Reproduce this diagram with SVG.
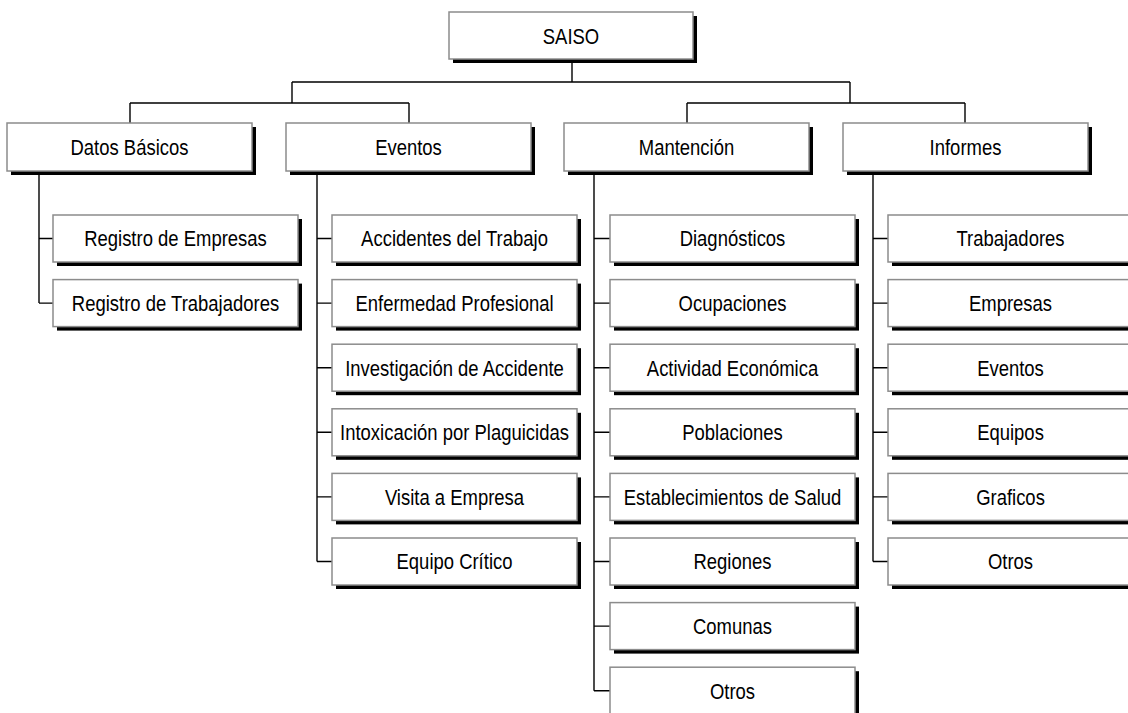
<svg xmlns="http://www.w3.org/2000/svg" width="1128" height="713" viewBox="0 0 1128 713">
<style>
.sh{fill:#000}
.bx{fill:#fff;stroke:#8c8c8c;stroke-width:1.5}
.t{font-family:"Liberation Sans",Arial,sans-serif;font-size:22px;fill:#000;text-anchor:middle}
.c{fill:none;stroke:#000;stroke-width:1.4}
</style>
<rect width="1128" height="713" fill="#fff"/>
<g id="connectors">
<path class="c" d="M572,59V82M292,82H850M292,82V103M850,82V103M130,103H409M687,103H965M130,103V123M409,103V123M687,103V123M965,103V123"/>
<path class="c" d="M39,171V303M39,238.5H53M39,303.1H53"/>
<path class="c" d="M317,171V561.5M317,238.5H332M317,303.1H332M317,367.7H332M317,432.3H332M317,496.9H332M317,561.5H332"/>
<path class="c" d="M594,171V690.7M594,238.5H610M594,303.1H610M594,367.7H610M594,432.3H610M594,496.9H610M594,561.5H610M594,626.1H610M594,690.7H610"/>
<path class="c" d="M873,171V561.5M873,238.5H888M873,303.1H888M873,367.7H888M873,432.3H888M873,496.9H888M873,561.5H888"/>
</g>
<g id="n-saiso"><rect class="sh" x="453" y="16" width="244" height="47"/><rect class="bx" x="449" y="12" width="244" height="47"/><text class="t" transform="translate(571,43.5) scale(0.84,1)">SAISO</text></g>
<g id="n-datos"><rect class="sh" x="11" y="127" width="245" height="48"/><rect class="bx" x="7" y="123" width="245" height="48"/><text class="t" transform="translate(129.5,155) scale(0.84,1)">Datos Básicos</text></g>
<g id="n-eventos"><rect class="sh" x="290" y="127" width="245" height="48"/><rect class="bx" x="286" y="123" width="245" height="48"/><text class="t" transform="translate(408.5,155) scale(0.84,1)">Eventos</text></g>
<g id="n-mantencion"><rect class="sh" x="568" y="127" width="245" height="48"/><rect class="bx" x="564" y="123" width="245" height="48"/><text class="t" transform="translate(686.5,155) scale(0.84,1)">Mantención</text></g>
<g id="n-informes"><rect class="sh" x="847" y="127" width="245" height="48"/><rect class="bx" x="843" y="123" width="245" height="48"/><text class="t" transform="translate(965.5,155) scale(0.84,1)">Informes</text></g>

<g id="n-d1"><rect class="sh" x="57" y="219" width="245" height="47"/><rect class="bx" x="53" y="215" width="245" height="47"/><text class="t" transform="translate(175.5,246.3) scale(0.84,1)">Registro de Empresas</text></g>
<g id="n-d2"><rect class="sh" x="57" y="283.6" width="245" height="47"/><rect class="bx" x="53" y="279.6" width="245" height="47"/><text class="t" transform="translate(175.5,310.9) scale(0.84,1)">Registro de Trabajadores</text></g>

<g id="n-e1"><rect class="sh" x="336" y="219" width="245" height="47"/><rect class="bx" x="332" y="215" width="245" height="47"/><text class="t" transform="translate(454.5,246.3) scale(0.84,1)">Accidentes del Trabajo</text></g>
<g id="n-e2"><rect class="sh" x="336" y="283.6" width="245" height="47"/><rect class="bx" x="332" y="279.6" width="245" height="47"/><text class="t" transform="translate(454.5,310.9) scale(0.84,1)">Enfermedad Profesional</text></g>
<g id="n-e3"><rect class="sh" x="336" y="348.2" width="245" height="47"/><rect class="bx" x="332" y="344.2" width="245" height="47"/><text class="t" transform="translate(454.5,375.5) scale(0.84,1)">Investigación de Accidente</text></g>
<g id="n-e4"><rect class="sh" x="336" y="412.8" width="245" height="47"/><rect class="bx" x="332" y="408.8" width="245" height="47"/><text class="t" transform="translate(454.5,440.1) scale(0.84,1)">Intoxicación por Plaguicidas</text></g>
<g id="n-e5"><rect class="sh" x="336" y="477.4" width="245" height="47"/><rect class="bx" x="332" y="473.4" width="245" height="47"/><text class="t" transform="translate(454.5,504.7) scale(0.84,1)">Visita a Empresa</text></g>
<g id="n-e6"><rect class="sh" x="336" y="542" width="245" height="47"/><rect class="bx" x="332" y="538" width="245" height="47"/><text class="t" transform="translate(454.5,569.3) scale(0.84,1)">Equipo Crítico</text></g>

<g id="n-m1"><rect class="sh" x="614" y="219" width="245" height="47"/><rect class="bx" x="610" y="215" width="245" height="47"/><text class="t" transform="translate(732.5,246.3) scale(0.84,1)">Diagnósticos</text></g>
<g id="n-m2"><rect class="sh" x="614" y="283.6" width="245" height="47"/><rect class="bx" x="610" y="279.6" width="245" height="47"/><text class="t" transform="translate(732.5,310.9) scale(0.84,1)">Ocupaciones</text></g>
<g id="n-m3"><rect class="sh" x="614" y="348.2" width="245" height="47"/><rect class="bx" x="610" y="344.2" width="245" height="47"/><text class="t" transform="translate(732.5,375.5) scale(0.84,1)">Actividad Económica</text></g>
<g id="n-m4"><rect class="sh" x="614" y="412.8" width="245" height="47"/><rect class="bx" x="610" y="408.8" width="245" height="47"/><text class="t" transform="translate(732.5,440.1) scale(0.84,1)">Poblaciones</text></g>
<g id="n-m5"><rect class="sh" x="614" y="477.4" width="245" height="47"/><rect class="bx" x="610" y="473.4" width="245" height="47"/><text class="t" transform="translate(732.5,504.7) scale(0.84,1)">Establecimientos de Salud</text></g>
<g id="n-m6"><rect class="sh" x="614" y="542" width="245" height="47"/><rect class="bx" x="610" y="538" width="245" height="47"/><text class="t" transform="translate(732.5,569.3) scale(0.84,1)">Regiones</text></g>
<g id="n-m7"><rect class="sh" x="614" y="606.6" width="245" height="47"/><rect class="bx" x="610" y="602.6" width="245" height="47"/><text class="t" transform="translate(732.5,633.9) scale(0.84,1)">Comunas</text></g>
<g id="n-m8"><rect class="sh" x="614" y="671.2" width="245" height="47"/><rect class="bx" x="610" y="667.2" width="245" height="47"/><text class="t" transform="translate(732.5,698.5) scale(0.84,1)">Otros</text></g>

<g id="n-i1"><rect class="sh" x="892" y="219" width="245" height="47"/><rect class="bx" x="888" y="215" width="245" height="47"/><text class="t" transform="translate(1010.5,246.3) scale(0.84,1)">Trabajadores</text></g>
<g id="n-i2"><rect class="sh" x="892" y="283.6" width="245" height="47"/><rect class="bx" x="888" y="279.6" width="245" height="47"/><text class="t" transform="translate(1010.5,310.9) scale(0.84,1)">Empresas</text></g>
<g id="n-i3"><rect class="sh" x="892" y="348.2" width="245" height="47"/><rect class="bx" x="888" y="344.2" width="245" height="47"/><text class="t" transform="translate(1010.5,375.5) scale(0.84,1)">Eventos</text></g>
<g id="n-i4"><rect class="sh" x="892" y="412.8" width="245" height="47"/><rect class="bx" x="888" y="408.8" width="245" height="47"/><text class="t" transform="translate(1010.5,440.1) scale(0.84,1)">Equipos</text></g>
<g id="n-i5"><rect class="sh" x="892" y="477.4" width="245" height="47"/><rect class="bx" x="888" y="473.4" width="245" height="47"/><text class="t" transform="translate(1010.5,504.7) scale(0.84,1)">Graficos</text></g>
<g id="n-i6"><rect class="sh" x="892" y="542" width="245" height="47"/><rect class="bx" x="888" y="538" width="245" height="47"/><text class="t" transform="translate(1010.5,569.3) scale(0.84,1)">Otros</text></g>
</svg>
